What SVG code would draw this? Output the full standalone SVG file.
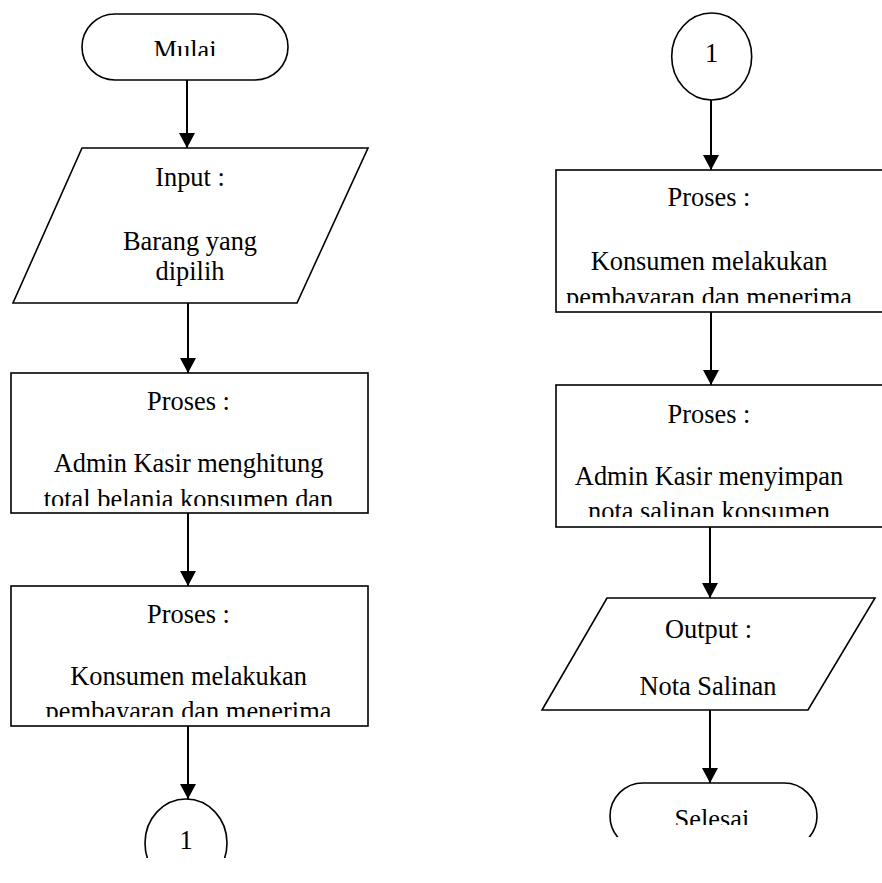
<svg xmlns="http://www.w3.org/2000/svg" width="882" height="883" viewBox="0 0 882 883">
<style>
.s{fill:#fff;stroke:#000;stroke-width:1.6}
.t{font-family:"Liberation Serif","Times New Roman",serif;font-size:26.4px;fill:#000;text-anchor:middle}
.c{stroke:#000;stroke-width:2;fill:none}
</style>
<defs>
<marker id="ah" markerWidth="16" markerHeight="16" viewBox="0 0 16 16" refX="15" refY="8" orient="auto" markerUnits="userSpaceOnUse">
<path d="M0,0 L15,8 L0,16 Z" fill="#000"/>
</marker>
<clipPath id="cMulai"><rect x="0" y="0" width="882" height="56"/></clipPath>
<clipPath id="cB1"><rect x="0" y="373" width="882" height="133"/></clipPath>
<clipPath id="cB2"><rect x="0" y="586" width="882" height="131"/></clipPath>
<clipPath id="cB3"><rect x="0" y="170" width="882" height="133"/></clipPath>
<clipPath id="cB4"><rect x="0" y="385" width="882" height="132"/></clipPath>
<clipPath id="cSel"><rect x="0" y="0" width="882" height="825"/></clipPath>
<clipPath id="cSelShape"><rect x="0" y="0" width="882" height="837"/></clipPath>
<clipPath id="cCirc"><rect x="0" y="0" width="882" height="858"/></clipPath>
</defs>

<g id="connectors">
<line class="c" x1="187" y1="80" x2="187" y2="148" marker-end="url(#ah)"/>
<line class="c" x1="188" y1="303" x2="188" y2="373" marker-end="url(#ah)"/>
<line class="c" x1="188" y1="513" x2="188" y2="586" marker-end="url(#ah)"/>
<line class="c" x1="188" y1="726" x2="188" y2="799" marker-end="url(#ah)"/>
<line class="c" x1="711" y1="100" x2="711" y2="170" marker-end="url(#ah)"/>
<line class="c" x1="711" y1="312" x2="711" y2="385" marker-end="url(#ah)"/>
<line class="c" x1="710" y1="527" x2="710" y2="598" marker-end="url(#ah)"/>
<line class="c" x1="710" y1="710" x2="710" y2="783" marker-end="url(#ah)"/>
</g>

<g id="mulai">
<rect class="s" x="82" y="14" width="206" height="66" rx="33" ry="33"/>
<text class="t" x="185" y="59" clip-path="url(#cMulai)">Mulai</text>
</g>

<g id="input">
<polygon class="s" points="82,148 368,148 297,303 13,303"/>
<text class="t" x="190" y="186">Input :</text>
<text class="t" x="190" y="250">Barang yang</text>
<text class="t" x="190" y="280">dipilih</text>
</g>

<g id="proses1">
<rect class="s" x="11" y="373" width="357" height="140"/>
<g clip-path="url(#cB1)">
<text class="t" x="188.5" y="410">Proses :</text>
<text class="t" x="188.5" y="472">Admin Kasir menghitung</text>
<text class="t" x="188.5" y="508">total belanja konsumen dan</text>
</g>
</g>

<g id="proses2">
<rect class="s" x="11" y="586" width="357" height="140"/>
<g clip-path="url(#cB2)">
<text class="t" x="188.5" y="623">Proses :</text>
<text class="t" x="188.5" y="685">Konsumen melakukan</text>
<text class="t" x="188.5" y="720">pembayaran dan menerima</text>
</g>
</g>

<g id="konektor1a" clip-path="url(#cCirc)">
<ellipse class="s" cx="186" cy="843" rx="41" ry="44"/>
<text class="t" x="186" y="849">1</text>
</g>

<g id="konektor1b">
<ellipse class="s" cx="711.7" cy="56.5" rx="40" ry="43.5"/>
<text class="t" x="711.7" y="62">1</text>
</g>

<g id="proses3">
<rect class="s" x="556" y="170" width="340" height="142"/>
<g clip-path="url(#cB3)">
<text class="t" x="709" y="206">Proses :</text>
<text class="t" x="709" y="270">Konsumen melakukan</text>
<text class="t" x="709" y="306">pembayaran dan menerima</text>
</g>
</g>

<g id="proses4">
<rect class="s" x="556" y="385" width="340" height="142"/>
<g clip-path="url(#cB4)">
<text class="t" x="709" y="423">Proses :</text>
<text class="t" x="709" y="485">Admin Kasir menyimpan</text>
<text class="t" x="709" y="520">nota salinan konsumen</text>
</g>
</g>

<g id="output">
<polygon class="s" points="607,598 875,598 808,710 542,710"/>
<text class="t" x="708.5" y="638">Output :</text>
<text class="t" x="708" y="695">Nota Salinan</text>
</g>

<g id="selesai">
<rect class="s" x="610" y="783" width="207" height="66" rx="33" ry="33" clip-path="url(#cSelShape)"/>
<text class="t" x="712" y="828" clip-path="url(#cSel)">Selesai</text>
</g>
</svg>
